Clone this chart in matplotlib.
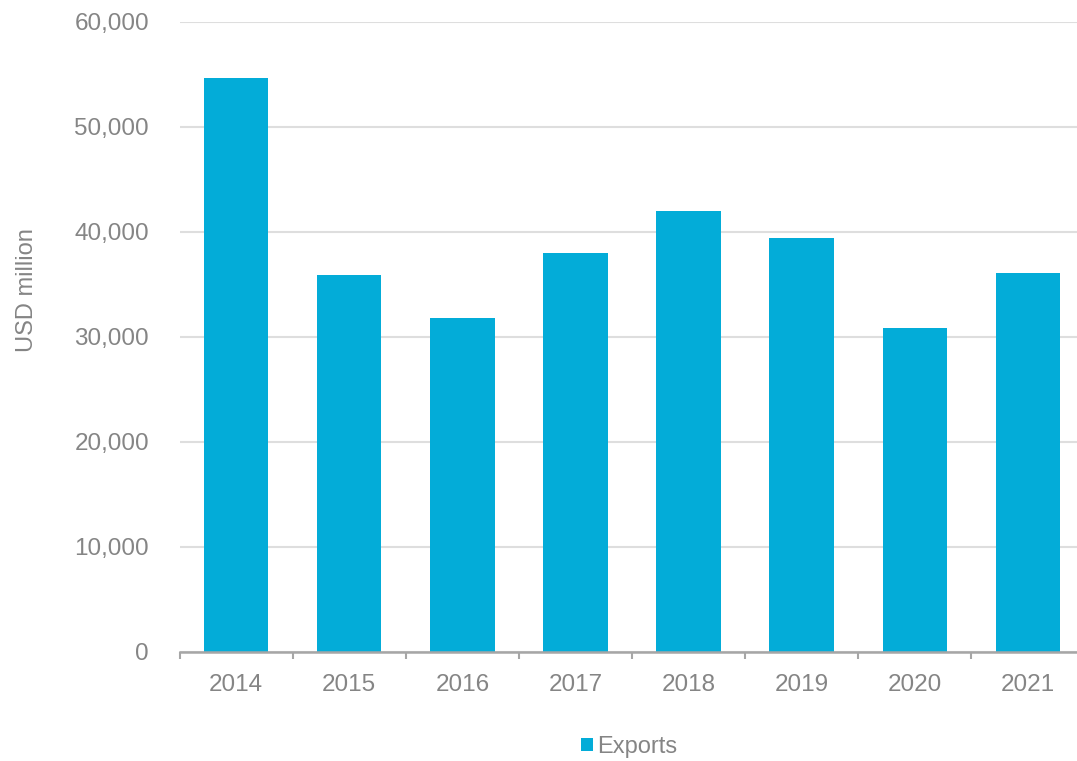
import numpy as np
import matplotlib.pyplot as plt
from matplotlib.ticker import FuncFormatter, FixedLocator

years = ['2014', '2015', '2016', '2017', '2018', '2019', '2020', '2021']
exports = [54600, 35900, 31800, 38000, 42000, 39400, 30800, 36100]

bar_color = '#03acd8'
text_color = '#858585'

plt.rcParams['font.family'] = ['Liberation Sans', 'DejaVu Sans']

fig = plt.figure(figsize=(10.77, 7.61), dpi=100)
# axis runs slightly past the right edge of the figure
ax = fig.add_axes([0.1667, 0.1436, 0.8403, 0.8279])

x = np.arange(len(years))
ax.bar(x, exports, width=0.57, color=bar_color, label='Exports', zorder=3)

ax.set_xlim(-0.5, len(years) - 0.5)
ax.set_ylim(0, 60000)
ax.set_yticks(np.arange(0, 60001, 10000))
ax.yaxis.set_major_formatter(FuncFormatter(lambda v, p: f'{int(v):,}'))
ax.grid(axis='y', color='#dedede', linewidth=1.5, zorder=0)

ax.set_xticks(x)
ax.set_xticklabels(years)
ax.xaxis.set_minor_locator(FixedLocator(np.arange(-0.5, len(years), 1.0)))
ax.tick_params(axis='x', which='major', length=0, pad=16, labelsize=17.5, labelcolor=text_color)
ax.tick_params(axis='x', which='minor', length=5, width=1.5, color='#a6a6a6', direction='out')
ax.tick_params(axis='y', length=0, pad=22, labelsize=17.5, labelcolor=text_color)

for side in ['left', 'right', 'top']:
    ax.spines[side].set_visible(False)
ax.spines['bottom'].set_color('#a6a6a6')
ax.spines['bottom'].set_linewidth(1.8)
ax.spines['bottom'].set_zorder(4)

fig.text(0.025, 0.619, 'USD million', rotation=90, ha='center', va='center',
         fontsize=17, color=text_color)

leg = ax.legend(loc='upper center', bbox_to_anchor=(0.497, -0.1), frameon=False,
                fontsize=17, handlelength=0.5, handleheight=0.5, handletextpad=0.2)
for t in leg.get_texts():
    t.set_color(text_color)

fig.savefig('out.png', dpi=100)
